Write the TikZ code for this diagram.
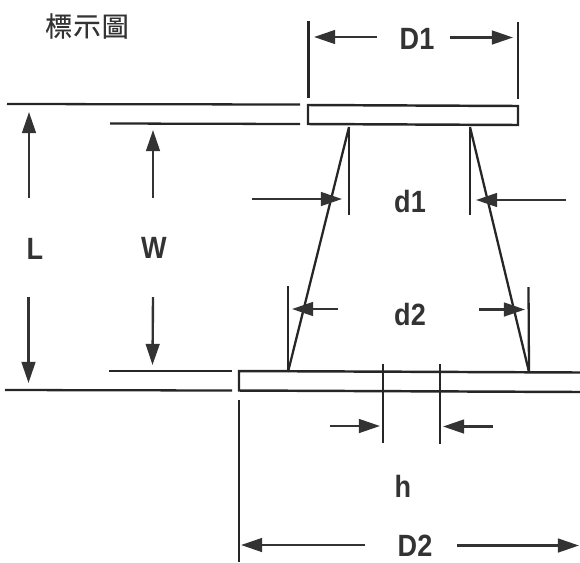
\documentclass[tikz,border=0pt]{standalone}
\usepackage{fontspec}
\setmainfont{Liberation Sans}
\newfontfamily\cjkfont[FakeBold=0.5]{Noto Sans CJK TC}
\usetikzlibrary{arrows.meta}
\tikzset{
    edgeline/.style={line width=1.4pt,color=black!85},
    thinline/.style={line width=1.3pt,color=black!85},
    dimarrow/.style={line width=1.35pt,color=black!80,-{Stealth[inset=0pt,length=12pt,width=7.8pt]}},
    dimlabel/.style={font=\fontsize{17.5}{20}\selectfont\bfseries,color=black!80,inner sep=0pt,xscale=0.88},
}
\begin{document}
\begin{tikzpicture}[x=0.02cm,y=-0.02cm]
    \useasboundingbox (0,0) rectangle (580,562);
    % upper plate
    \coordinate (topA) at (308,105);
    \coordinate (topB) at (518,106);
    \coordinate (topC) at (518,125);
    \coordinate (topD) at (308,124);
    % lower plate, runs off to the right
    \coordinate (lowA) at (580,372.5);
    \coordinate (lowB) at (239,371);
    \coordinate (lowC) at (239,390.5);
    \coordinate (lowD) at (580,392);
    % cone
    \coordinate (coneTL) at (349,127);
    \coordinate (coneTR) at (470,127);
    \coordinate (coneBL) at (288,372);
    \coordinate (coneBR) at (529,372);
    % extension lines
    \coordinate (extL1) at (7,104);
    \coordinate (extL2) at (300,104.5);
    \coordinate (extW1) at (110,123.5);
    \coordinate (extW2) at (300,124);
    \coordinate (extW3) at (109,371);
    \coordinate (extW4) at (232,371);
    \coordinate (extL3) at (5,390);
    \coordinate (extL4) at (232,390.5);
    \coordinate (extDa) at (308.5,21);
    \coordinate (extDb) at (308.5,98);
    \coordinate (extDc) at (518,22);
    \coordinate (extDd) at (518,99);
    \coordinate (extEa) at (239,400);
    \coordinate (extEb) at (239,562);
    \coordinate (d1endL) at (349,215);
    \coordinate (d1endR) at (470,215);
    \coordinate (d2topL) at (288,286);
    \coordinate (d2topR) at (528.5,287);
    \coordinate (hAa) at (383,364);
    \coordinate (hAb) at (383,443);
    \coordinate (hBa) at (440,364);
    \coordinate (hBb) at (440,444);
    % arrow ends
    \coordinate (arrLa) at (29,198);
    \coordinate (arrLb) at (29,112);
    \coordinate (arrLc) at (28.5,297);
    \coordinate (arrLd) at (28.5,383);
    \coordinate (arrWa) at (153,198);
    \coordinate (arrWb) at (153,130);
    \coordinate (arrWc) at (153,297);
    \coordinate (arrWd) at (152.5,365);
    \coordinate (arrDa) at (377,37);
    \coordinate (arrDb) at (314,37);
    \coordinate (arrDc) at (450,37.5);
    \coordinate (arrDd) at (513,37.5);
    \coordinate (arrEa) at (365,545);
    \coordinate (arrEb) at (241,545);
    \coordinate (arrEc) at (457,545.5);
    \coordinate (arrEd) at (579,545.5);
    \coordinate (arrfa) at (252,199);
    \coordinate (arrfb) at (342,199);
    \coordinate (arrfc) at (566,200);
    \coordinate (arrfd) at (476,200);
    \coordinate (arrga) at (338,309);
    \coordinate (arrgb) at (292,309);
    \coordinate (arrgc) at (479,309.5);
    \coordinate (arrgd) at (525,309.5);
    \coordinate (arrha) at (330,426);
    \coordinate (arrhb) at (380,426);
    \coordinate (arrhc) at (493,426.5);
    \coordinate (arrhd) at (443,426.5);

    \draw[edgeline] (topA)--(topB)--(topC)--(topD)--cycle;
    \draw[edgeline] (lowA)--(lowB)--(lowC)--(lowD);
    \draw[thinline] (coneTL)--(coneBL);
    \draw[thinline] (coneTR)--(coneBR);
    \draw[thinline] (coneTL)--(d1endL);
    \draw[thinline] (coneTR)--(d1endR);
    \draw[thinline] (d2topL)--(coneBL);
    \draw[thinline] (d2topR)--(coneBR);
    \draw[thinline] (extL1)--(extL2);
    \draw[thinline] (extW1)--(extW2);
    \draw[thinline] (extW3)--(extW4);
    \draw[thinline] (extL3)--(extL4);
    \draw[thinline] (extDa)--(extDb);
    \draw[thinline] (extDc)--(extDd);
    \draw[thinline] (extEa)--(extEb);
    \draw[thinline] (hAa)--(hAb);
    \draw[thinline] (hBa)--(hBb);

    \draw[dimarrow] (arrLa)--(arrLb);
    \draw[dimarrow] (arrLc)--(arrLd);
    \draw[dimarrow] (arrWa)--(arrWb);
    \draw[dimarrow] (arrWc)--(arrWd);
    \draw[dimarrow] (arrDa)--(arrDb);
    \draw[dimarrow] (arrDc)--(arrDd);
    \draw[dimarrow] (arrEa)--(arrEb);
    \draw[dimarrow] (arrEc)--(arrEd);
    \draw[dimarrow] (arrfa)--(arrfb);
    \draw[dimarrow] (arrfc)--(arrfd);
    \draw[dimarrow] (arrga)--(arrgb);
    \draw[dimarrow] (arrgc)--(arrgd);
    \draw[dimarrow] (arrha)--(arrhb);
    \draw[dimarrow] (arrhc)--(arrhd);

    \node[dimlabel] (labL) at (35,249) {L};
    \node[dimlabel] (labW) at (154,248) {W};
    \node[dimlabel] (labDone) at (417,39) {D1};
    \node[dimlabel] (labDtwo) at (415,546) {D2};
    \node[dimlabel] (labdone) at (410,202) {d1};
    \node[dimlabel] (labdtwo) at (410,314) {d2};
    \node[dimlabel] (labh) at (403,486) {h};
    \node[font=\fontsize{15.5}{17}\selectfont\cjkfont,color=black!80,inner sep=0pt] (title) at (87,26) {標\hspace{0.6pt}示\hspace{0.6pt}圖};
\end{tikzpicture}
\end{document}
